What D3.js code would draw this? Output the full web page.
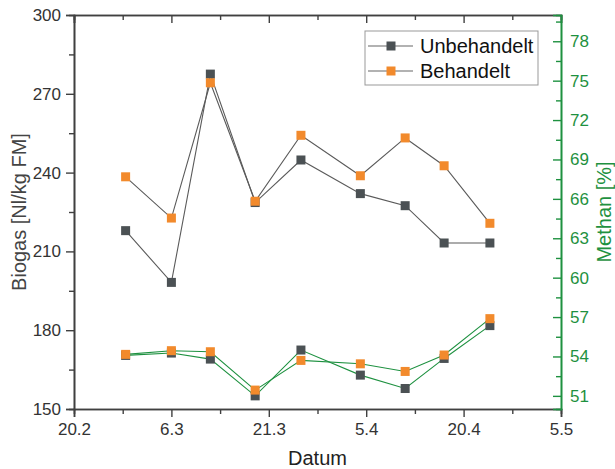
<!DOCTYPE html>
<html>
<head>
<meta charset="utf-8">
<script src="https://cdn.jsdelivr.net/npm/d3@7"></script>
<style>
  body { margin: 0; background: #fff; }
  svg { font-family: Arial, "Liberation Sans", sans-serif; }
</style>
</head>
<body>
<script>
// x positions in units of the date ticks (0 = 20.2, 1 = 6.3, ...)
const xPos = [0.53, 1.0, 1.4, 1.86, 2.33, 2.94, 3.4, 3.8, 4.27];
const dateLabels = ["20.2", "6.3", "21.3", "5.4", "20.4", "5.5"];

const biogasUnbehandelt = [217.9, 198.2, 277.5, 228.6, 244.8, 232.0, 227.4, 213.2, 213.2];
const biogasBehandelt = [238.4, 222.7, 274.2, 229.1, 254.2, 238.8, 253.2, 242.6, 220.7];
const methanUnbehandelt = [54.08, 54.26, 53.8, 51.0, 54.49, 52.58, 51.56, 53.85, 56.35];
const methanBehandelt = [54.16, 54.44, 54.36, 51.44, 53.7, 53.44, 52.86, 54.11, 56.88];

const leftTicks = [150, 180, 210, 240, 270, 300];
const rightTicks = [51, 54, 57, 60, 63, 66, 69, 72, 75, 78];

const svgWidth = 615;
const svgHeight = 469;
const margin = {top: 15, right: 54, bottom: 60, left: 74};
const chartWidth = svgWidth - margin.left - margin.right;
const chartHeight = svgHeight - margin.top - margin.bottom;

const darkColor = "#4b5154";
const orangeColor = "#f28a2c";
const greenColor = "#1e9140";
const axisColor = "#404040";

const svg = d3.select("body").append("svg")
    .attr("width", svgWidth)
    .attr("height", svgHeight);

const g = svg.append("g")
    .attr("transform", `translate(${margin.left}, ${margin.top})`);

const scaleX = d3.scaleLinear().domain([0, 5]).range([0, chartWidth]);
const scaleY = d3.scaleLinear().domain([150, 300]).range([chartHeight, 0]);
const scaleY2 = d3.scaleLinear().domain([50, 80]).range([chartHeight, 0]);

const styleAxis = (sel, color) => {
    sel.select(".domain").attr("stroke", color).attr("stroke-width", 1.6);
    sel.selectAll(".tick line").attr("stroke", color).attr("stroke-width", 1.4);
    sel.selectAll(".tick text").attr("fill", color === axisColor ? "#333" : color).style("font-size", "17px");
};

const minorX = d3.range(0.5, 5, 1);
const minorY = d3.range(165, 300, 30);
const minorY2 = d3.range(52.5, 80, 3);

// bottom axis
g.append("g")
    .attr("transform", `translate(0,${chartHeight})`)
    .call(d3.axisBottom(scaleX).tickValues(minorX).tickSize(5).tickFormat(""))
    .call(s => styleAxis(s, axisColor));
g.append("g")
    .attr("transform", `translate(0,${chartHeight})`)
    .call(d3.axisBottom(scaleX).tickValues(d3.range(0, 6)).tickSize(8).tickPadding(6)
        .tickFormat(i => dateLabels[i]))
    .call(s => styleAxis(s, axisColor));

// top axis (ticks inward)
g.append("g")
    .call(d3.axisTop(scaleX).tickValues(minorX).tickSize(-5).tickFormat(""))
    .call(s => styleAxis(s, axisColor));
g.append("g")
    .call(d3.axisTop(scaleX).tickValues(d3.range(0, 6)).tickSize(-8).tickFormat(""))
    .call(s => styleAxis(s, axisColor));

// left axis
g.append("g")
    .call(d3.axisLeft(scaleY).tickValues(minorY).tickSize(5).tickFormat(""))
    .call(s => styleAxis(s, axisColor));
g.append("g")
    .call(d3.axisLeft(scaleY).tickValues(leftTicks).tickSize(8).tickPadding(5))
    .call(s => styleAxis(s, axisColor));

// right axis (green, ticks inward)
g.append("g")
    .attr("transform", `translate(${chartWidth},0)`)
    .call(d3.axisRight(scaleY2).tickValues(minorY2).tickSize(-5).tickFormat(""))
    .call(s => styleAxis(s, greenColor));
g.append("g")
    .attr("transform", `translate(${chartWidth},0)`)
    .call(d3.axisRight(scaleY2).tickValues(rightTicks).tickSize(-8).tickPadding(9))
    .call(s => styleAxis(s, greenColor));

// axis titles
svg.append("text")
    .attr("x", margin.left + chartWidth / 2)
    .attr("y", 465)
    .attr("text-anchor", "middle")
    .attr("fill", "#222")
    .style("font-size", "20px")
    .text("Datum");

svg.append("text")
    .attr("transform", `translate(26,${margin.top + chartHeight / 2}) rotate(-90)`)
    .attr("text-anchor", "middle")
    .attr("fill", "#444")
    .style("font-size", "20px")
    .text("Biogas [Nl/kg FM]");

svg.append("text")
    .attr("transform", `translate(611,${margin.top + chartHeight / 2}) rotate(-90)`)
    .attr("text-anchor", "middle")
    .attr("fill", greenColor)
    .style("font-size", "20px")
    .text("Methan [%]");

// series
const series = [
    {values: biogasUnbehandelt, y: scaleY, line: "#5a5a5a", fill: darkColor},
    {values: methanUnbehandelt, y: scaleY2, line: greenColor, fill: darkColor},
    {values: biogasBehandelt, y: scaleY, line: "#5a5a5a", fill: orangeColor},
    {values: methanBehandelt, y: scaleY2, line: greenColor, fill: orangeColor}
];

const sq = 9;
series.forEach(s => {
    const pts = s.values.map((v, i) => [scaleX(xPos[i]), s.y(v)]);
    g.append("path")
        .attr("d", d3.line()(pts))
        .attr("fill", "none")
        .attr("stroke", s.line)
        .attr("stroke-width", 1.1);
});
series.forEach(s => {
    g.append("g")
        .selectAll("rect")
        .data(s.values)
        .join("rect")
        .attr("x", (d, i) => scaleX(xPos[i]) - sq / 2)
        .attr("y", d => s.y(d) - sq / 2)
        .attr("width", sq)
        .attr("height", sq)
        .attr("fill", s.fill);
});

// legend
const legend = svg.append("g").attr("transform", "translate(365,31)");
legend.append("rect")
    .attr("width", 173)
    .attr("height", 54)
    .attr("fill", "#fff")
    .attr("stroke", "#999")
    .attr("stroke-width", 1);
const legendItems = [
    {label: "Unbehandelt", color: darkColor},
    {label: "Behandelt", color: orangeColor}
];
legendItems.forEach((d, i) => {
    const row = legend.append("g").attr("transform", `translate(0,${15 + i * 25})`);
    row.append("line")
        .attr("x1", 3).attr("x2", 48)
        .attr("stroke", "#666").attr("stroke-width", 1.1);
    row.append("rect")
        .attr("x", 26 - sq / 2).attr("y", -sq / 2)
        .attr("width", sq).attr("height", sq)
        .attr("fill", d.color);
    row.append("text")
        .attr("x", 55)
        .attr("y", 7)
        .attr("fill", "#111")
        .style("font-size", "20px")
        .text(d.label);
});
</script>
</body>
</html>
